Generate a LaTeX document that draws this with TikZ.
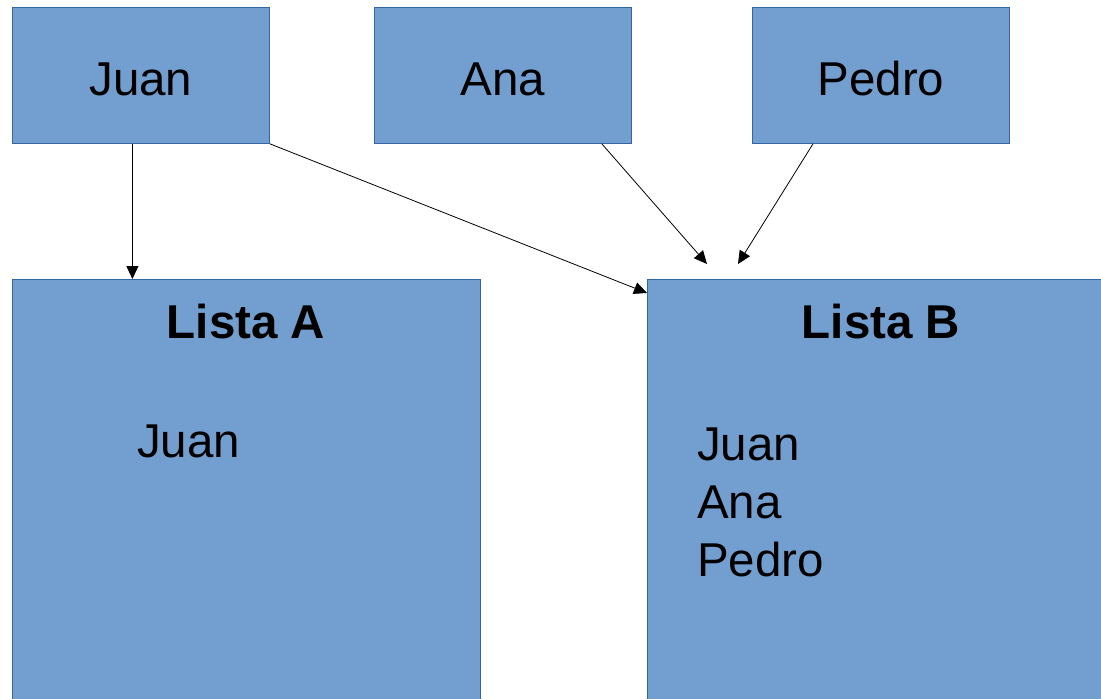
\documentclass[tikz,border=0pt]{standalone}
\usepackage{fontspec}
\setmainfont{Liberation Sans}
\usetikzlibrary{arrows.meta}
\definecolor{boxfill}{HTML}{729FCF}
\definecolor{boxline}{HTML}{3465A4}
\tikzset{
    namebox/.style={draw=boxline, fill=boxfill, line width=0.8pt, anchor=north west,
        minimum width=257pt, minimum height=136pt, inner sep=0pt,
        text height=40pt, text depth=0pt,
        font=\fontsize{47.5}{57}\selectfont},
    listbox/.style={draw=boxline, fill=boxfill, line width=0.8pt, anchor=north west,
        minimum width=468pt, minimum height=500pt, inner sep=0pt},
    listtext/.style={anchor=base west, inner sep=0pt, font=\fontsize{47.5}{57}\selectfont},
    listtitle/.style={anchor=base, inner sep=0pt, font=\fontsize{47.5}{57}\selectfont\bfseries},
    link/.style={-{Triangle[length=13pt,width=12pt]}, line width=0.8pt}
}
\begin{document}
\begin{tikzpicture}[x=1pt,y=-1pt]
        \useasboundingbox (0,0) rectangle (1101,699);
        \clip (0,0) rectangle (1101,699);

        \node[namebox] (juan) at (12,7) {Juan};
        \node[namebox] (ana) at (374,7) {Ana};
        \node[namebox] (pedro) at (752,7) {Pedro};

        \node[listbox] (listaA) at (12,279) {};
        \node[listbox] (listaB) at (647,279) {};

        \node[listtitle] (titleA) at (246,338) {Lista A};
        \node[listtext] (itemA1) at (137,457) {Juan};

        \node[listtitle] (titleB) at (881,338) {Lista B};
        \node[listtext] (itemB1) at (697,460) {Juan};
        \node[listtext] (itemB2) at (697,518) {Ana};
        \node[listtext] (itemB3) at (697,576) {Pedro};

        \coordinate (endAna) at (707,264);
        \coordinate (endPedro) at (738,264);

        \draw[link] ([xshift=-8.5pt]juan.south) -- ([xshift=-8.5pt]juan.south |- listaA.north);
        \draw[link] (juan.south east) -- ([yshift=-14pt]listaB.north west);
        \draw[link] ([xshift=-30pt]ana.south east) -- (endAna);
        \draw[link] ([xshift=61pt]pedro.south west) -- (endPedro);
    \end{tikzpicture}
\end{document}
